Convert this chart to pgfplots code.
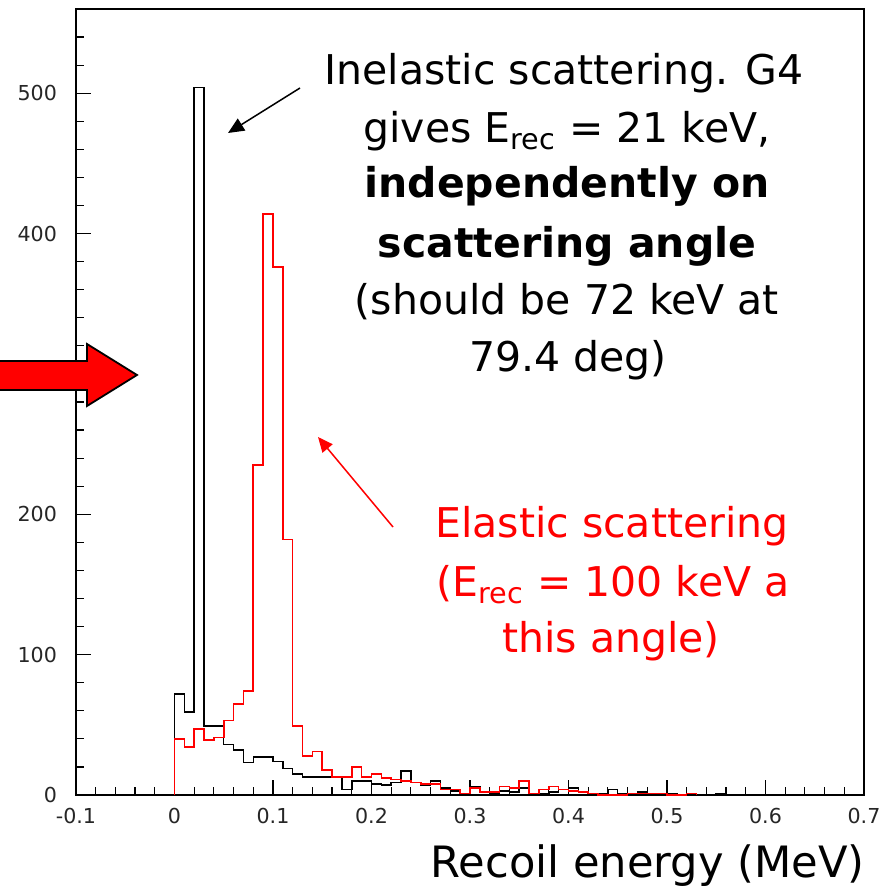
\documentclass[border=0pt]{standalone}
\usepackage{fontspec}
\setmainfont{DejaVu Sans}
\usepackage{pgfplots}
\usepackage{pgfplotstable}
\pgfplotsset{compat=1.18}
\usetikzlibrary{arrows.meta}

% recoil energy histograms, bin width 0.01 MeV, x = left bin edge
\pgfplotstableread{
x y
0.00 0
0.00 72
0.01 59
0.02 504
0.03 49
0.04 49
0.05 36
0.06 32
0.07 23
0.08 27
0.09 27
0.10 24
0.11 19
0.12 15
0.13 13
0.14 13
0.15 13
0.16 13
0.17 4
0.18 10
0.19 10
0.20 8
0.21 7
0.22 9
0.23 17
0.24 9
0.25 7
0.26 10
0.27 5
0.28 3
0.29 1
0.30 6
0.31 2
0.32 1
0.33 3
0.34 2
0.35 5
0.36 1
0.37 1
0.38 2
0.39 4
0.40 5
0.41 2
0.42 0
0.43 1
0.44 4
0.45 1
0.46 0
0.47 2
0.48 0
0.49 1
0.50 1
0.51 0
0.52 1
0.53 0
0.54 0
0.55 1
0.56 0
}\inelastic

\pgfplotstableread{
x y
0.00 0
0.00 40
0.01 34
0.02 47
0.03 39
0.04 41
0.05 53
0.06 65
0.07 74
0.08 235
0.09 414
0.10 376
0.11 182
0.12 49
0.13 28
0.14 31
0.15 18
0.16 13
0.17 13
0.18 20
0.19 13
0.20 15
0.21 12
0.22 11
0.23 10
0.24 9
0.25 8
0.26 8
0.27 4
0.28 4
0.29 1
0.30 5
0.31 2
0.32 2
0.33 6
0.34 5
0.35 10
0.36 1
0.37 4
0.38 6
0.39 4
0.40 3
0.41 2
0.42 1
0.43 0
0.44 0
0.45 0
0.46 1
0.47 1
0.48 1
0.49 1
0.50 0
0.51 0
0.52 1
0.53 0
}\elastic

\begin{document}
\begin{tikzpicture}
\begin{axis}[
    name=ax,
    at={(0,0)}, anchor=south west,
    scale only axis,
    width=394pt, height=393pt,
    xmin=-0.1, xmax=0.7,
    ymin=0, ymax=560,
    xtick={-0.1,0,0.1,0.2,0.3,0.4,0.5,0.6,0.7},
    xticklabels={-0.1,0,0.1,0.2,0.3,0.4,0.5,0.6,0.7},
    minor xtick={-0.08,-0.06,-0.04,-0.02,0.02,0.04,0.06,0.08,0.12,0.14,0.16,0.18,0.22,0.24,0.26,0.28,0.32,0.34,0.36,0.38,0.42,0.44,0.46,0.48,0.52,0.54,0.56,0.58,0.62,0.64,0.66,0.68},
    ytick={0,100,200,300,400,500},
    yticklabels={0,100,200,300,400,500},
    minor ytick={20,40,60,80,120,140,160,180,220,240,260,280,320,340,360,380,420,440,460,480,520,540},
    tick pos=left,
    tick align=inside,
    major tick length=7.5pt,
    minor tick length=4.2pt,
    tick style={line width=0.6pt, black},
    axis line style={line width=0.6pt},
    ticklabel style={font=\fontsize{10.3}{12}\selectfont, text=black!85},
    yticklabel style={xshift=-6pt},
    xticklabel style={yshift=-3pt},
]
\addplot[const plot, black, line width=0.75pt] table {\inelastic};
\addplot[const plot, red, line width=0.8pt] table {\elastic};
\end{axis}

% big red arrow pointing at the axis
\draw[line width=0.9pt, black, fill=red]
  ([xshift=-43pt,yshift=217pt]ax.south west) -- ([xshift=5.5pt,yshift=217pt]ax.south west)
  -- ([xshift=5.5pt,yshift=225.5pt]ax.south west) -- ([xshift=30.5pt,yshift=210pt]ax.south west)
  -- ([xshift=5.5pt,yshift=194.5pt]ax.south west) -- ([xshift=5.5pt,yshift=202.5pt]ax.south west)
  -- ([xshift=-43pt,yshift=202.5pt]ax.south west) -- cycle;

% annotation arrows
\draw[line width=0.75pt, black, -{Triangle[length=8pt,width=7pt]}]
  ([xshift=112pt,yshift=353.5pt]ax.south west) -- ([xshift=76pt,yshift=331pt]ax.south west);
\draw[line width=0.75pt, red, -{Triangle[length=7.5pt,width=6.5pt]}]
  ([xshift=158.5pt,yshift=134pt]ax.south west) -- ([xshift=121pt,yshift=179pt]ax.south west);

% inelastic note
\begin{scope}[every node/.style={anchor=base, inner sep=0pt, font=\fontsize{20.5}{24}\selectfont}]
\node at ([xshift=244pt,yshift=355pt]ax.south west) {Inelastic scattering. G4};
\node at ([xshift=245.5pt,yshift=326pt]ax.south west) {gives E\textsubscript{rec} = 21 keV,};
\node at ([xshift=245.5pt,yshift=298.5pt]ax.south west) {\textbf{independently on}};
\node at ([xshift=245.5pt,yshift=268.5pt]ax.south west) {\textbf{scattering angle}};
\node at ([xshift=245.5pt,yshift=240pt]ax.south west) {(should be 72 keV at};
\node at ([xshift=246pt,yshift=211.5pt]ax.south west) {79.4 deg)};
% elastic note
\node[text=red] at ([xshift=268pt,yshift=128.5pt]ax.south west) {Elastic scattering};
\node[text=red] at ([xshift=268.5pt,yshift=99pt]ax.south west) {(E\textsubscript{rec} = 100 keV a};
\node[text=red] at ([xshift=267.5pt,yshift=71pt]ax.south west) {this angle)};
% x axis title
\node[anchor=base east, font=\fontsize{21.6}{25}\selectfont] at ([xshift=394.5pt,yshift=-41pt]ax.south west) {Recoil energy (MeV)};
\end{scope}

\pgfresetboundingbox
\path ([xshift=-38pt,yshift=-50pt]ax.south west) rectangle ([xshift=403pt,yshift=397.5pt]ax.south west);
\end{tikzpicture}
\end{document}
